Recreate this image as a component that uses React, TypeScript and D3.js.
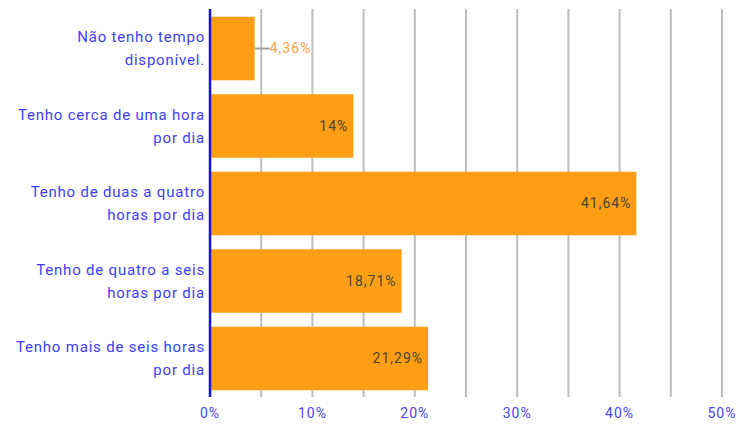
import { useEffect, useRef } from 'react';
import * as d3 from 'd3';

const categories = [
  ['Não tenho tempo', 'disponível.'],
  ['Tenho cerca de uma hora', 'por dia'],
  ['Tenho de duas a quatro', 'horas por dia'],
  ['Tenho de quatro a seis', 'horas por dia'],
  ['Tenho mais de seis horas', 'por dia'],
];
const values = [4.36, 14, 41.64, 18.71, 21.29];
const valueLabels = ['4,36%', '14%', '41,64%', '18,71%', '21,29%'];
const tickValues = [0, 10, 20, 30, 40, 50];
const gridValues = [5, 10, 15, 20, 25, 30, 35, 40, 45, 50];

const W = 738;
const H = 424;

export default function App() {
  const svgRef = useRef<SVGSVGElement>(null);

  useEffect(() => {
    const svg = d3.select(svgRef.current);
    svg.selectAll('*').remove();

    const x = d3.scaleLinear().domain([0, 50]).range([210, 722]);
    const y = d3
      .scaleBand<number>()
      .domain(d3.range(values.length))
      .range([9, 398])
      .paddingInner(0.18)
      .paddingOuter(0.1);

    // grid lines
    svg.append('g')
      .selectAll('line')
      .data(gridValues)
      .enter()
      .append('line')
      .attr('x1', d => x(d))
      .attr('x2', d => x(d))
      .attr('y1', 9)
      .attr('y2', 397)
      .attr('stroke', '#bdbdbd')
      .attr('stroke-width', 2);

    // bars
    svg.append('g')
      .selectAll('rect')
      .data(values)
      .enter()
      .append('rect')
      .attr('x', x(0))
      .attr('y', (_, i) => y(i)!)
      .attr('width', d => x(d) - x(0))
      .attr('height', y.bandwidth())
      .attr('fill', '#fd9e15');

    // value labels
    values.forEach((v, i) => {
      const cy = y(i)! + y.bandwidth() / 2;
      const barEnd = x(v);
      if (barEnd - x(0) < 60) {
        svg.append('line')
          .attr('x1', barEnd)
          .attr('x2', barEnd + 15)
          .attr('y1', cy)
          .attr('y2', cy)
          .attr('stroke', '#9e9e9e')
          .attr('stroke-width', 2);
        svg.append('text')
          .attr('x', barEnd + 15)
          .attr('y', cy)
          .attr('dy', '0.35em')
          .style('font-family', 'Roboto, sans-serif')
          .style('font-size', '14px')
          .style('letter-spacing', '1px')
          .attr('fill', '#fba040')
          .text(valueLabels[i]);
      } else {
        svg.append('text')
          .attr('x', barEnd - 5)
          .attr('y', cy)
          .attr('dy', '0.35em')
          .attr('text-anchor', 'end')
          .style('font-family', 'Roboto, sans-serif')
          .style('font-size', '14px')
          .style('letter-spacing', '1px')
          .attr('fill', '#4b4535')
          .text(valueLabels[i]);
      }
    });

    // category labels
    categories.forEach((lines, i) => {
      const cy = y(i)! + y.bandwidth() / 2;
      const t = svg.append('text')
        .attr('text-anchor', 'end')
        .style('font-family', 'Roboto, sans-serif')
        .style('font-size', '15px')
        .style('letter-spacing', '0.8px')
        .attr('fill', '#3d3dff');
      lines.forEach((line, j) => {
        t.append('tspan')
          .attr('x', 205)
          .attr('y', cy + (j - (lines.length - 1) / 2) * 23)
          .attr('dy', '0.35em')
          .text(line);
      });
    });

    // axis line
    svg.append('line')
      .attr('x1', x(0))
      .attr('x2', x(0))
      .attr('y1', 9)
      .attr('y2', 397)
      .attr('stroke', '#1010ee')
      .attr('stroke-width', 2.5);

    // x tick labels
    svg.append('g')
      .selectAll('text')
      .data(tickValues)
      .enter()
      .append('text')
      .attr('x', d => x(d))
      .attr('y', 413)
      .attr('dy', '0.35em')
      .attr('text-anchor', 'middle')
      .style('font-family', 'Roboto, sans-serif')
      .style('font-size', '14px')
      .style('letter-spacing', '1px')
      .attr('fill', '#4646ff')
      .text(d => `${d}%`);
  }, []);

  return (
    <svg
      ref={svgRef}
      width={W}
      height={H}
      style={{ position: 'absolute', left: 0, top: 0, background: '#fff' }}
    />
  );
}
